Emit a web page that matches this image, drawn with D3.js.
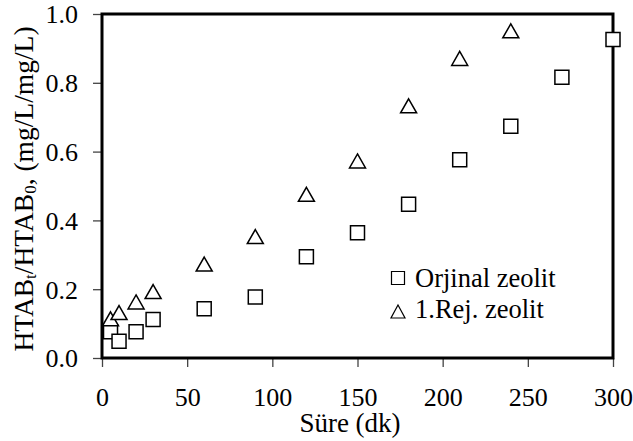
<!DOCTYPE html>
<html>
<head>
<meta charset="utf-8">
<script src="https://cdn.jsdelivr.net/npm/d3@7"></script>
<style>
    body { margin: 0; background: #fff; }
    text { font-family: 'Times New Roman', Times, 'Liberation Serif', 'DejaVu Serif', serif; fill: #000; }
</style>
</head>
<body>
<svg id="chart" width="633" height="441"></svg>
<script>
// sampling times (dk)
var times = [5, 10, 20, 30, 60, 90, 120, 150, 180, 210, 240, 270, 300];
// HTABt/HTAB0 values
var orjinal = [0.076, 0.049, 0.076, 0.112, 0.143, 0.177, 0.294, 0.364, 0.447, 0.576, 0.674, 0.816, 0.926];
var rejTimes = [5, 10, 20, 30, 60, 90, 120, 150, 180, 210, 240];
var rej = [0.114, 0.132, 0.163, 0.193, 0.273, 0.353, 0.476, 0.573, 0.733, 0.871, 0.951];

var xTicks = [0, 50, 100, 150, 200, 250, 300];
var yTicks = [0, 0.2, 0.4, 0.6, 0.8, 1.0];
var legendLabels = ['Orjinal zeolit', '1.Rej. zeolit'];

var serif = "'Times New Roman', Times, 'Liberation Serif', 'DejaVu Serif', serif";

// plot box (note: "top" is taken by window.top)
var plotLeft = 102, plotRight = 613, plotTop = 14, plotBottom = 358;

var svg = d3.select('#chart');

var x = d3.scaleLinear().domain([0, 300]).range([plotLeft, plotRight]);
var y = d3.scaleLinear().domain([0, 1]).range([plotBottom, plotTop]);

var xAxis = svg.append('g')
    .attr('transform', 'translate(0,' + plotBottom + ')')
    .call(d3.axisBottom(x).tickValues(xTicks).tickSize(9).tickPadding(21).tickFormat(d3.format('d')));

var yAxis = svg.append('g')
    .attr('transform', 'translate(' + plotLeft + ',0)')
    .call(d3.axisLeft(y).tickValues(yTicks).tickSize(9).tickPadding(15).tickFormat(d3.format('.1f')));

[xAxis, yAxis].forEach(function(ax) {
    ax.attr('font-family', serif);
    ax.select('.domain').remove();
    ax.selectAll('.tick line').attr('stroke', '#444').attr('stroke-width', 1.3);
    ax.selectAll('.tick text')
        .style('font-family', serif)
        .style('font-size', '26px')
        .attr('fill', '#000');
});
yAxis.selectAll('.tick text').attr('dy', '0.34em');

// frame
svg.append('rect')
    .attr('x', plotLeft)
    .attr('y', plotTop)
    .attr('width', plotRight - plotLeft)
    .attr('height', plotBottom - plotTop)
    .attr('fill', 'none')
    .attr('stroke', '#000')
    .attr('stroke-width', 3);

var squarePath = function(s) {
    var h = s / 2;
    return 'M' + (-h) + ',' + (-h) + 'H' + h + 'V' + h + 'H' + (-h) + 'Z';
};
var trianglePath = function(w, hgt) {
    var hw = w / 2, hh = hgt / 2;
    return 'M0,' + (-hh) + 'L' + hw + ',' + hh + 'L' + (-hw) + ',' + hh + 'Z';
};

// series: squares first, triangles on top
svg.append('g').selectAll('path')
    .data(times.map(function(t, i) { return [t, orjinal[i]]; }))
    .enter().append('path')
    .attr('d', squarePath(14))
    .attr('transform', function(d) { return 'translate(' + x(d[0]) + ',' + y(d[1]) + ')'; })
    .attr('fill', '#fff')
    .attr('stroke', '#000')
    .attr('stroke-width', 1.5);

svg.append('g').selectAll('path')
    .data(rejTimes.map(function(t, i) { return [t, rej[i]]; }))
    .enter().append('path')
    .attr('d', trianglePath(16, 14))
    .attr('transform', function(d) { return 'translate(' + x(d[0]) + ',' + y(d[1]) + ')'; })
    .attr('fill', '#fff')
    .attr('stroke', '#000')
    .attr('stroke-width', 1.5);

// legend
var legend = svg.append('g');
legend.append('path')
    .attr('d', squarePath(13))
    .attr('transform', 'translate(398,278)')
    .attr('fill', '#fff').attr('stroke', '#000').attr('stroke-width', 1.2);
legend.append('path')
    .attr('d', trianglePath(14, 13))
    .attr('transform', 'translate(398,311.5)')
    .attr('fill', '#fff').attr('stroke', '#000').attr('stroke-width', 1.2);
legend.selectAll('text')
    .data(legendLabels)
    .enter().append('text')
    .attr('x', 415)
    .attr('y', function(d, i) { return 287 + i * 31; })
    .style('font-family', serif)
    .style('font-size', '26.5px')
    .text(function(d) { return d; });

// axis titles
svg.append('text')
    .attr('x', 350)
    .attr('y', 432)
    .attr('text-anchor', 'middle')
    .style('font-family', serif)
    .style('font-size', '27px')
    .text('Süre (dk)');

var yTitle = svg.append('text')
    .attr('transform', 'translate(33,189) rotate(-90)')
    .attr('text-anchor', 'middle')
    .style('font-family', serif)
    .style('font-size', '27.5px');
yTitle.append('tspan').text('HTAB');
yTitle.append('tspan').attr('dy', 3).style('font-size', '17px').text('t');
yTitle.append('tspan').attr('dy', -3).text('/HTAB');
yTitle.append('tspan').attr('dy', 3).style('font-size', '17px').text('0');
yTitle.append('tspan').attr('dy', -3).text(', (mg/L/mg/L)');
</script>
</body>
</html>
